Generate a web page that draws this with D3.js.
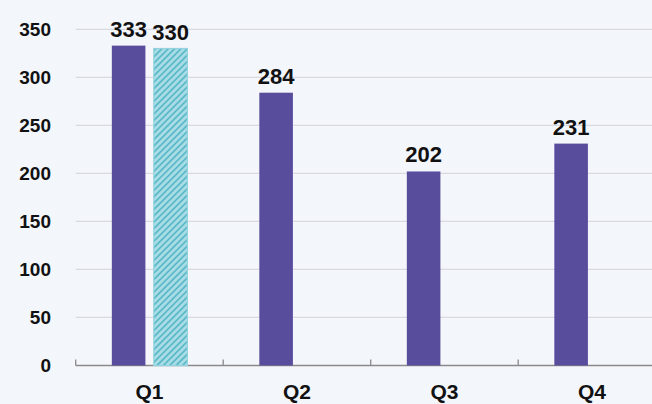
<!DOCTYPE html>
<html>
<head>
<meta charset="utf-8">
<script src="https://cdn.jsdelivr.net/npm/d3@7"></script>
<style>
html,body{margin:0;padding:0;background:#f3f6fb;}
svg{display:block;font-family:"Liberation Sans",Arial,sans-serif;}
</style>
</head>
<body>
<svg id="chart" width="652" height="404"></svg>
<script>
const categories = ["Q1", "Q2", "Q3", "Q4"];
const seriesNames = ["A", "B"];
const seriesA = [333, 284, 202, 231];
const seriesB = [330, null, null, null];
const yTicks = [0, 50, 100, 150, 200, 250, 300, 350];

const W = 652, H = 404;
const svg = d3.select("#chart");
svg.append("rect").attr("width", W).attr("height", H).attr("fill", "#f3f6fb");

const defs = svg.append("defs");
const pat = defs.append("pattern").attr("id", "hatch").attr("patternUnits", "userSpaceOnUse")
  .attr("width", 4.5).attr("height", 4.5).attr("patternTransform", "rotate(45)");
pat.append("rect").attr("width", 4.5).attr("height", 4.5).attr("fill", "#a9dde6");
pat.append("rect").attr("x", 0).attr("width", 1.8).attr("height", 4.5).attr("fill", "#5db9c9");

const x0 = 75.7, bandW = 147.5;
const x = d3.scaleBand().domain(categories).range([x0, x0 + bandW * categories.length]).padding(0);
const xs = d3.scaleBand().domain(seriesNames).range([x.bandwidth() * 0.245, x.bandwidth() * 0.757]).paddingInner(0.2);
const y = d3.scaleLinear().domain([0, 350]).range([365.5, 29.3]);

// gridlines
svg.append("g").selectAll("line").data(yTicks.filter(d => d > 0)).join("line")
  .attr("x1", x0).attr("x2", W).attr("y1", d => y(d)).attr("y2", d => y(d))
  .attr("stroke", "#d9dadd").attr("stroke-width", 1.3);

// y tick labels
svg.append("g").selectAll("text").data(yTicks).join("text")
  .attr("x", 51).attr("y", d => y(d)).attr("dy", "0.36em")
  .attr("text-anchor", "end").attr("font-weight", "bold").attr("font-size", 19)
  .attr("fill", "#111").text(d => d);

// x axis
const ax = svg.append("g").attr("transform", `translate(0,${y(0)})`);
ax.append("line").attr("x1", x0).attr("x2", W).attr("stroke", "#8a8a8a").attr("stroke-width", 1.3);
ax.selectAll("line.tk").data(categories).join("line").attr("class", "tk")
  .attr("x1", d => x(d)).attr("x2", d => x(d)).attr("y1", 0).attr("y2", -6)
  .attr("stroke", "#8a8a8a").attr("stroke-width", 1.3);
svg.append("g").selectAll("text").data(categories).join("text")
  .attr("x", d => x(d) + x.bandwidth() / 2).attr("y", 399)
  .attr("text-anchor", "middle").attr("font-weight", "bold").attr("font-size", 21)
  .attr("fill", "#111").text(d => d);

// bars
const rows = categories.map((c, i) => ({cat: c, vals: [{s: "A", v: seriesA[i]}, {s: "B", v: seriesB[i]}].filter(d => d.v != null)}));
const g = svg.append("g").selectAll("g").data(rows).join("g")
  .attr("transform", d => `translate(${x(d.cat)},0)`);
g.selectAll("rect").data(d => d.vals).join("rect")
  .attr("x", d => xs(d.s)).attr("width", xs.bandwidth())
  .attr("y", d => y(d.v)).attr("height", d => y(0) - y(d.v))
  .attr("fill", d => d.s === "A" ? "#584c9c" : "url(#hatch)")
  .attr("stroke", d => d.s === "A" ? "none" : "#92d3df").attr("stroke-width", 1.2);
g.selectAll("text").data(d => d.vals).join("text")
  .attr("x", d => xs(d.s) + xs.bandwidth() / 2).attr("y", d => y(d.v) - 9)
  .attr("text-anchor", "middle").attr("font-weight", "bold").attr("font-size", 22)
  .attr("fill", "#111").text(d => d.v);
</script>
</body>
</html>
